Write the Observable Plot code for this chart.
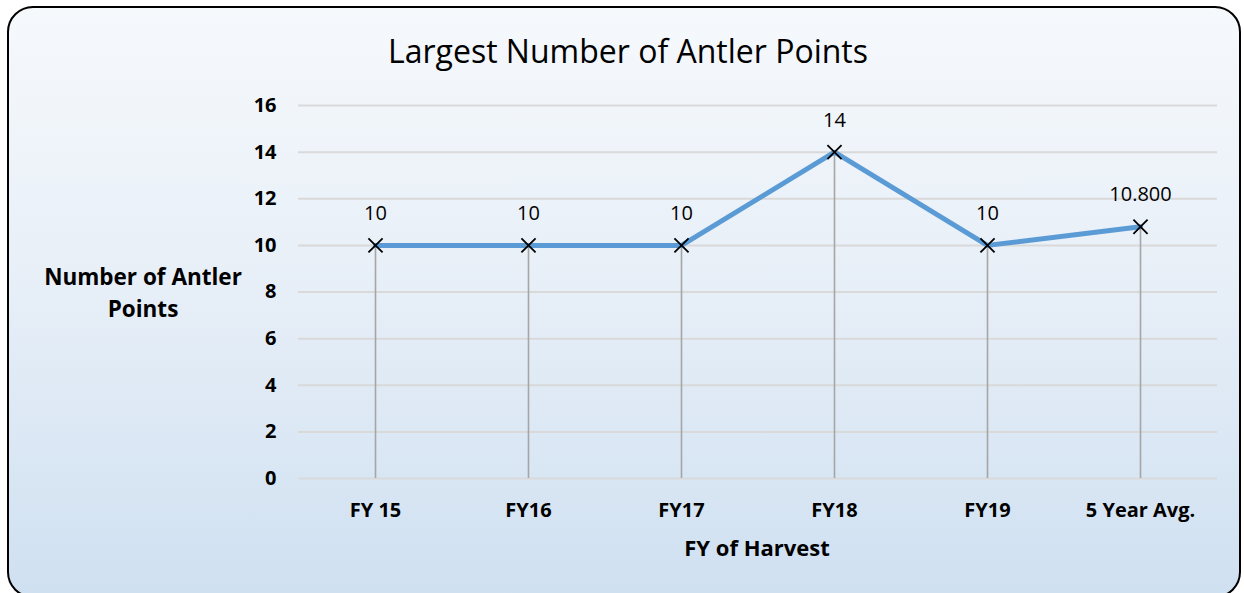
<!DOCTYPE html>
<html>
<head>
<meta charset="utf-8">
<script src="https://cdn.jsdelivr.net/npm/d3@7"></script>
<script src="https://cdn.jsdelivr.net/npm/@observablehq/plot@0.6"></script>
<style>
  html, body { margin: 0; padding: 0; width: 1244px; height: 593px; overflow: hidden; background: #fff; }
  #box {
    position: absolute; left: 7px; top: 6px; width: 1234px; height: 592px;
    box-sizing: border-box; border: 2.5px solid #000; border-radius: 26px;
    background: linear-gradient(to bottom, #f6f9fc 0%, #e6eef7 50%, #cfe0f1 100%);
    overflow: hidden;
  }
  #chart { position: absolute; left: 0; top: 0; }
  .lbl { position: absolute; font-family: "Open Sans", Lato, sans-serif; color: #000; white-space: nowrap; }
  #title { left: 628px; top: 29px; transform: translateX(-50%); font-size: 32px; font-weight: 400; }
  #ylab { left: 143px; top: 261px; transform: translateX(-50%); text-align: center; font-size: 22.5px; font-weight: 700; line-height: 32px; }
  #xlab { left: 757px; top: 532px; transform: translateX(-50%); font-size: 22px; font-weight: 700; }
</style>
</head>
<body>
<div id="box"></div>
<div id="chart"></div>
<div class="lbl" id="title">Largest Number of Antler Points</div>
<div class="lbl" id="ylab">Number of Antler<br>Points</div>
<div class="lbl" id="xlab">FY of Harvest</div>
<script>
const categories = ["FY 15", "FY16", "FY17", "FY18", "FY19", "5 Year Avg."];
const values = [10, 10, 10, 14, 10, 10.8];
const valueLabels = ["10", "10", "10", "14", "10", "10.800"];
const yTicks = [0, 2, 4, 6, 8, 10, 12, 14, 16];

const data = categories.map((c, i) => ({cat: c, v: values[i], label: valueLabels[i]}));

const chart = Plot.plot({
  width: 1244,
  height: 593,
  marginLeft: 298,
  marginRight: 27,
  marginTop: 105,
  marginBottom: 115,
  style: { background: "transparent", fontFamily: "'Open Sans', Lato, sans-serif" },
  x: { type: "point", domain: categories, padding: 0.5, label: null },
  y: { domain: [0, 16], ticks: yTicks, label: null },
  marks: [
    Plot.gridY(yTicks, { stroke: "#d9d9d9", strokeOpacity: 1, strokeWidth: 2 }),
    Plot.axisY(yTicks, { tickSize: 0, tickPadding: 22, fontSize: 20, fontWeight: "bold", fill: "#000", label: null }),
    Plot.axisX({ tickSize: 0, tickPadding: 24, fontSize: 20, fontWeight: "bold", fill: "#000", label: null }),
    Plot.ruleX(data, { x: "cat", y1: 0, y2: "v", stroke: "#a6a6a6", strokeWidth: 1.6 }),
    Plot.line(data, { x: "cat", y: "v", stroke: "#5b9bd5", strokeWidth: 5, strokeLinejoin: "miter" }),
    Plot.dot(data, { x: "cat", y: "v", symbol: "times", r: 6.5, stroke: "#000", strokeWidth: 1.8 }),
    Plot.text(data, { x: "cat", y: "v", text: "label", dy: -32, fontSize: 20, fill: "#000" })
  ]
});
document.getElementById("chart").appendChild(chart);
</script>
</body>
</html>
